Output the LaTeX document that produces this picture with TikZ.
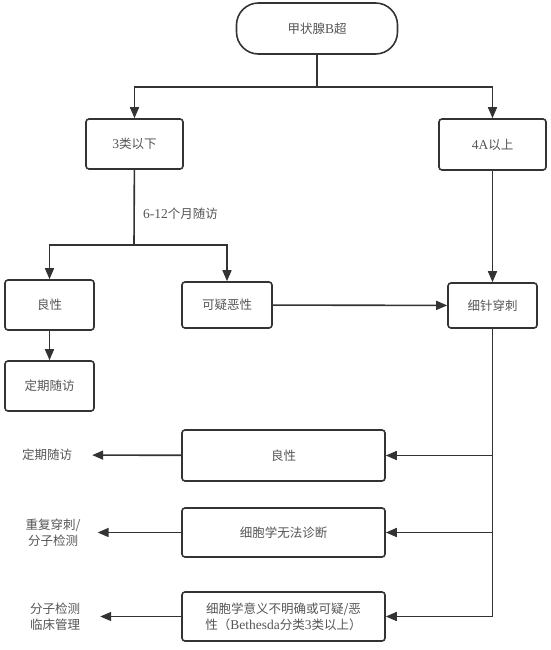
\documentclass[tikz,border=0pt]{standalone}
\usepackage{fontspec}
\setmainfont{Liberation Serif}
\newfontfamily\cjk{Noto Sans CJK SC}
\usetikzlibrary{arrows.meta}
\newcommand{\lat}[1]{{\rmfamily\fontsize{13.5}{16}\selectfont #1}}
\definecolor{linegray}{HTML}{333333}
\definecolor{textgray}{HTML}{555555}
\tikzset{
    mybox/.style={
        draw=linegray,
        line width=1.6pt,
        rounded corners=3pt,
        align=center,
        inner sep=0,
    },
    startbox/.style={
        mybox,
        rounded corners=22pt,
        minimum width=161pt,
        minimum height=51pt,
    },
    outtext/.style={
        align=center,
        inner sep=0,
    },
    arr/.style={
        draw=linegray,
        line width=1.6pt,
        -{Triangle[length=11pt,width=9pt]},
    },
    plain/.style={
        draw=linegray,
        line width=1.6pt,
    },
}

\begin{document}
\begin{tikzpicture}[x=1pt, y=-1pt,
        every node/.style={font=\cjk\fontsize{12.5}{16}\selectfont, text=textgray}]
            \useasboundingbox (0,0) rectangle (551,650);

            \node[startbox] at (317, 28.5) (us) {甲状腺\lat{B}超} ;
            \node[mybox, minimum width=97pt, minimum height=50pt] at (134.5, 144) (low) {\lat{3}类以下} ;
            \node[mybox, minimum width=107pt, minimum height=51pt] at (492.5, 144.5) (high) {\lat{4A}以上} ;
            \node[mybox, minimum width=89pt, minimum height=50pt] at (49.5, 305) (benA) {良性} ;
            \node[mybox, minimum width=90pt, minimum height=46pt] at (227, 305) (susp) {可疑恶性} ;
            \node[mybox, minimum width=89pt, minimum height=45pt] at (492.5, 305.5) (fna) {细针穿刺} ;
            \node[mybox, minimum width=89pt, minimum height=50pt] at (49.5, 386) (followA) {定期随访} ;
            \node[mybox, minimum width=203pt, minimum height=51pt] at (283.5, 455.5) (benB) {良性} ;
            \node[mybox, minimum width=203pt, minimum height=49pt] at (283.5, 532.5) (nondx) {细胞学无法诊断} ;
            \node[mybox, minimum width=203pt, minimum height=49pt] at (283.5, 616.5) (malig)
                {细胞学意义不明确或可疑/恶\\性（\lat{Bethesda}分类\lat{3}类以上）} ;

            \node[outtext] at (47, 455) (followB) {定期随访} ;
            \node[outtext] at (53, 533) (repeat) {重复穿刺/\\分子检测} ;
            \node[outtext] at (55, 617) (manage) {分子检测\\临床管理} ;
            \node[outtext, anchor=west] at (143, 214) (interval) {\lat{6-12}个月随访} ;

            \coordinate (splitA) at (317, 87) ;
            \coordinate (splitB) at (134, 245) ;

            % top split
            \draw[plain] (us) -- (splitA) ;
            \draw[arr] (splitA) -| (low) ;
            \draw[arr] (splitA) -| (high) ;

            % low risk branch
            \draw[plain] (low) -- (splitB) ;
            \draw[arr] (splitB) -| (benA) ;
            \draw[arr] (splitB) -| (susp) ;
            \draw[arr] (benA) -- (followA) ;
            \draw[arr] (susp) -- (fna) ;
            \draw[arr] (high) -- (fna) ;

            % cytology results
            \draw[arr] (fna.south) |- (benB.east) ;
            \draw[arr] (fna.south) |- (nondx.east) ;
            \draw[arr] (fna.south) |- (malig.east) ;
            \draw[arr, shorten >=20pt] (benB) -- (followB) ;
            \draw[arr, shorten >=17pt] (nondx.west) -- (nondx.west -| repeat.east) ;
            \draw[arr, shorten >=20pt] (malig.west) -- (malig.west -| manage.east) ;
        \end{tikzpicture}
\end{document}
